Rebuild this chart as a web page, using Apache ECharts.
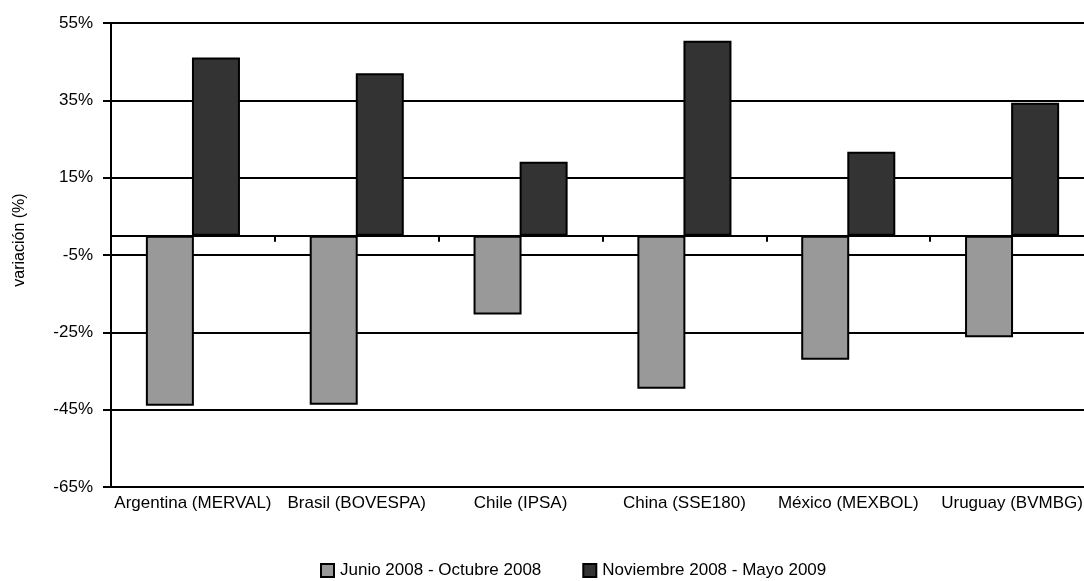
<!DOCTYPE html>
<html>
<head>
<meta charset="utf-8">
<script src="https://cdn.jsdelivr.net/npm/echarts@6/dist/echarts.min.js"></script>
<style>
  html, body { margin: 0; padding: 0; background: #ffffff; }
  #chart { width: 1084px; height: 581px; }
</style>
</head>
<body>
<div id="chart"></div>
<script>
// Stock index variation by market, two periods
const categories = ['Argentina (MERVAL)', 'Brasil (BOVESPA)', 'Chile (IPSA)', 'China (SSE180)', 'México (MEXBOL)', 'Uruguay (BVMBG)'];
const seriesNames = ['Junio 2008 - Octubre 2008', 'Noviembre 2008 - Mayo 2009'];
const junOct2008 = [-44.0, -43.7, -20.4, -39.6, -32.1, -26.3];
const novMay2009 = [46.1, 42.0, 19.1, 50.4, 21.7, 34.4];
const yTicks = { min: -65, max: 55, step: 20 };
const yAxisTitle = 'variación (%)';

const FONT = 'Liberation Sans, Arial, sans-serif';
const chart = echarts.init(document.getElementById('chart'), null, { renderer: 'canvas' });

chart.setOption({
  animation: false,
  backgroundColor: '#ffffff',
  grid: { left: 111, top: 23, width: 983, height: 464, containLabel: false, outerBoundsMode: 'none' },
  legend: {
    left: 315,
    top: 557,
    itemWidth: 13,
    itemHeight: 13,
    itemGap: 41,
    icon: 'rect',
    textStyle: { fontFamily: FONT, fontSize: 17, color: '#000000', padding: [0, 0, 0, 1] },
    data: seriesNames
  },
  xAxis: [
    {
      type: 'category',
      data: categories,
      position: 'bottom',
      axisLine: { onZero: false, lineStyle: { color: '#000000', width: 2 } },
      axisTick: { show: false },
      axisLabel: { fontFamily: FONT, fontSize: 17, color: '#000000', margin: 8, interval: 0 },
      splitLine: { show: false }
    },
    {
      type: 'category',
      data: categories,
      position: 'bottom',
      axisLine: { onZero: true, lineStyle: { color: '#000000', width: 2 } },
      axisTick: { show: true, length: 6, lineStyle: { color: '#000000', width: 2 } },
      axisLabel: { show: false },
      splitLine: { show: false }
    }
  ],
  yAxis: {
    type: 'value',
    min: yTicks.min,
    max: yTicks.max,
    interval: yTicks.step,
    axisLine: { show: true, lineStyle: { color: '#000000', width: 2 } },
    axisTick: { show: true, length: 8, lineStyle: { color: '#000000', width: 2 } },
    axisLabel: {
      fontFamily: FONT, fontSize: 17, color: '#000000', margin: 18,
      verticalAlign: 'middle',
      padding: [6, 0, 0, 0],
      formatter: v => v + '%'
    },
    splitLine: { show: true, lineStyle: { color: '#000000', width: 2 } }
  },
  graphic: [{
    type: 'text',
    x: 20,
    y: 240,
    rotation: Math.PI / 2,
    style: {
      text: yAxisTitle,
      fontFamily: FONT,
      fontSize: 16,
      fill: '#000000',
      align: 'center',
      verticalAlign: 'middle'
    }
  }],
  series: [
    {
      name: seriesNames[0],
      type: 'bar',
      xAxisIndex: 0,
      data: junOct2008,
      barWidth: 48,
      barGap: '-4%',
      itemStyle: { color: '#999999', borderColor: '#000000', borderWidth: 2 }
    },
    {
      name: seriesNames[1],
      type: 'bar',
      xAxisIndex: 0,
      data: novMay2009,
      barWidth: 48,
      barGap: '-4%',
      itemStyle: { color: '#333333', borderColor: '#000000', borderWidth: 2 }
    }
  ]
});
</script>
</body>
</html>
